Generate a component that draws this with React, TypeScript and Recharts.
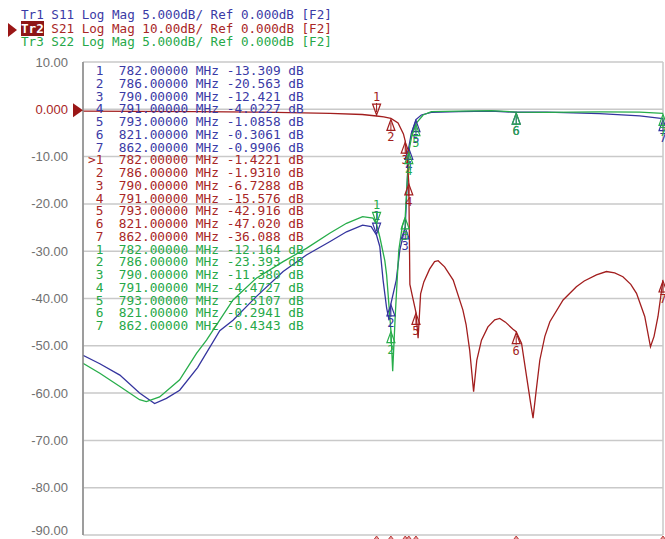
import { CartesianGrid, Line, LineChart, ReferenceDot, XAxis, YAxis } from "recharts";

// Network analyzer screen: 3 traces, Tr2 (S21) is active so the axis is in its scale.
const BLUE = "#34349e";
const RED = "#a21e1e";
const GREEN = "#27ad4a";
const BLUE_TXT = "#3a3aa6";
const RED_TXT = "#a82626";
const GREEN_TXT = "#26a848";

const markerFreqs = [782, 786, 790, 791, 793, 821, 862];
const s11Markers = [-13.309, -20.563, -12.421, -4.0227, -1.0858, -0.3061, -0.9906];
const s21Markers = [-1.4221, -1.931, -6.7288, -15.576, -42.916, -47.02, -36.088];
const s22Markers = [-12.164, -23.393, -11.38, -4.4727, -1.5107, -0.2941, -0.4343];

const yTicks = [10, 0, -10, -20, -30, -40, -50, -60, -70, -80, -90];
const xGridFreqs = [700, 716.2, 732.4, 748.6, 764.8, 781, 797.2, 813.4, 829.6, 845.8, 862];

// dB per division of each trace (header)
const S11_DIV = 5;
const S21_DIV = 10;
const S22_DIV = 5;

// S11, real dB
const s11Freq = [700, 704.7, 710.3, 715.8, 720, 723.3, 727, 732, 738.2, 741.9, 748.4, 755.9, 762.4, 768.9, 773.6, 778.1, 780.5, 782, 782.9, 783.8, 784.8, 785.5, 786, 787.5, 788.5, 790, 790.8, 791, 791.7, 793, 794.5, 797.3, 805, 814, 821, 829.5, 844.3, 855.5, 862];
const s11Db = [-26.0, -26.9, -28.1, -30.0, -31.1, -30.55, -29.7, -27.3, -23.4, -22.3, -19.8, -17.15, -15.4, -14.0, -12.95, -12.25, -12.4, -13.31, -14.5, -18, -21, -22.3, -20.56, -18.05, -14.85, -12.42, -5.7, -4.02, -2.55, -1.09, -0.6, -0.32, -0.25, -0.2, -0.31, -0.3, -0.45, -0.7, -0.99];

// S21, real dB
const s21Freq = [700, 715, 732, 750, 769, 778, 782, 784, 786, 788, 789.5, 790, 790.5, 791, 791.3, 792, 793, 793.6, 794.3, 795.2, 796.8, 798.2, 799.2, 801, 803.4, 806.1, 807, 808, 809.1, 810, 811.3, 813.1, 815, 816.4, 818, 820.1, 821, 822.5, 823.9, 825, 825.7, 826.5, 827.6, 829, 830.4, 834.1, 837.8, 840, 843.4, 846.2, 848.5, 850.8, 853, 854.6, 856.9, 858.5, 859.5, 860.6, 862];
const s21Db = [-0.4, -0.45, -0.5, -0.6, -0.85, -1.1, -1.42, -1.6, -1.93, -2.9, -5.2, -6.73, -10, -15.58, -37, -39.5, -42.92, -48.4, -39, -36.5, -33.8, -32.2, -32.0, -33.3, -36.1, -42.4, -45.5, -50.9, -59.7, -53, -48.8, -46, -44.5, -44.2, -45, -46.5, -47.02, -49.5, -56.5, -62, -65.3, -60, -53, -48, -44.9, -40.3, -37.5, -36.3, -35, -34.3, -34.6, -35.4, -37, -38.9, -43.8, -50.2, -48, -43.8, -36.09];

// S22, real dB
const s22Freq = [700, 704.7, 710.3, 715.8, 717.7, 721.4, 727, 731.7, 734.5, 741.9, 748.4, 755.9, 762.4, 768.9, 773.6, 778.1, 781, 782, 782.9, 784.3, 784.8, 785.7, 786, 786.5, 787.2, 788.2, 789.2, 790, 791, 792, 793, 795, 797.3, 805, 814, 821, 829.5, 844.3, 855.5, 862];
const s22Db = [-26.85, -27.9, -29.3, -30.7, -30.9, -30.4, -28.6, -25.8, -24.4, -20.15, -17.85, -16.1, -14.7, -13.1, -12.05, -11.35, -11.5, -12.16, -13.5, -16, -17.5, -21.9, -23.39, -27.7, -21.9, -14.9, -12.3, -11.38, -4.47, -2.5, -1.51, -0.6, -0.25, -0.2, -0.15, -0.29, -0.32, -0.28, -0.3, -0.43];

// the grid is drawn in Tr2's scale, so 5 dB/div traces are stretched
const toRows = (f: number[], v: number[], div: number) =>
  f.map((x, i) => ({ f: x, v: (v[i] * S21_DIV) / div }));

const s11Data = toRows(s11Freq, s11Db, S11_DIV);
const s21Data = toRows(s21Freq, s21Db, S21_DIV);
const s22Data = toRows(s22Freq, s22Db, S22_DIV);

const MONO = "'DejaVu Sans Mono', 'Liberation Mono', monospace";

const fmtTick = (v: number) => (v === 0 ? "0.000" : v.toFixed(2));
const fmtVal = (v: number) => (Math.abs(v) >= 10 ? v.toFixed(3) : v.toFixed(4));

function YTick(props: any) {
  const { y, payload } = props;
  const v = payload.value as number;
  const isRef = v === 0;
  return (
    <g>
      <text
        x={68}
        y={y}
        dy={4.5}
        textAnchor="end"
        fontSize={13}
        fontFamily="'Liberation Sans', Arial, sans-serif"
        fill={isRef ? RED_TXT : "#707070"}
      >
        {fmtTick(v)}
      </text>
      {isRef ? <polygon points={`73,${y - 6} 83,${y + 1} 73,${y + 8}`} fill="#9a1616" /> : null}
    </g>
  );
}

function markerShape(color: string, label: string, above: boolean) {
  return (p: any) => {
    const { cx, cy } = p;
    if (cx == null || cy == null) return <g />;
    if (above) {
      return (
        <g>
          <polygon
            points={`${cx - 4},${cy - 12} ${cx + 4},${cy - 12} ${cx},${cy - 1}`}
            fill="none"
            stroke={color}
            strokeWidth={1.2}
          />
          <line x1={cx} y1={cy - 13} x2={cx} y2={cy - 4} stroke={color} strokeWidth={1} />
          <text x={cx} y={cy - 15} textAnchor="middle" fontSize={12} fontFamily={MONO} fill={color}>
            {label}
          </text>
        </g>
      );
    }
    return (
      <g>
        <polygon
          points={`${cx},${cy + 1} ${cx - 4},${cy + 12} ${cx + 4},${cy + 12}`}
          fill="none"
          stroke={color}
          strokeWidth={1.2}
        />
        <line x1={cx} y1={cy + 4} x2={cx} y2={cy + 13} stroke={color} strokeWidth={1} />
        <text x={cx} y={cy + 23} textAnchor="middle" fontSize={12} fontFamily={MONO} fill={color}>
          {label}
        </text>
      </g>
    );
  };
}

function bottomTick(p: any) {
  const { cx, cy } = p;
  if (cx == null || cy == null) return <g />;
  return (
    <polygon
      points={`${cx},${cy + 1} ${cx - 3},${cy + 5} ${cx + 3},${cy + 5}`}
      fill="#e49a9a"
      stroke="#b82c2c"
      strokeWidth={0.9}
    />
  );
}

function markerRows(vals: number[], active: boolean) {
  return markerFreqs.map((f, i) => {
    const prefix = active && i === 0 ? ">" : " ";
    return `${prefix}${i + 1}  ${f.toFixed(5)} MHz ${fmtVal(vals[i]).padStart(7)} dB`;
  });
}

const traces = [
  { color: BLUE, txt: BLUE_TXT, markers: s11Markers, div: S11_DIV, active: false },
  { color: RED, txt: RED_TXT, markers: s21Markers, div: S21_DIV, active: true },
  { color: GREEN, txt: GREEN_TXT, markers: s22Markers, div: S22_DIV, active: false },
];

export default function App() {
  return (
    <div
      style={{
        position: "absolute",
        left: 0,
        top: 0,
        width: 665,
        height: 539,
        overflow: "hidden",
        background: "#fff",
      }}
    >
      {/* header lines */}
      <div
        style={{
          position: "absolute",
          left: 21,
          top: 8,
          fontFamily: MONO,
          fontSize: 12.6,
          lineHeight: "13.5px",
          whiteSpace: "pre",
        }}
      >
        <div style={{ color: BLUE_TXT }}>Tr1 S11 Log Mag 5.000dB/ Ref 0.000dB [F2]</div>
        <div style={{ color: RED_TXT }}>
          <span style={{ background: "#8e1717", color: "#fff", fontWeight: "bold" }}>Tr2</span> S21 Log Mag
          10.00dB/ Ref 0.000dB [F2]
        </div>
        <div style={{ color: GREEN_TXT }}>Tr3 S22 Log Mag 5.000dB/ Ref 0.000dB [F2]</div>
      </div>
      <svg style={{ position: "absolute", left: 7, top: 22 }} width={12} height={16}>
        <polygon points="1,1 10,8 1,15" fill="#9a1616" />
      </svg>

      <LineChart width={665} height={539} margin={{ top: 62, right: 2, bottom: 0, left: 0 }}>
        <CartesianGrid stroke="#c9c9c9" strokeWidth={1.5} />
        <XAxis
          type="number"
          dataKey="f"
          domain={[700, 862]}
          ticks={xGridFreqs}
          tick={false}
          tickLine={false}
          axisLine={false}
          height={4}
          allowDataOverflow
        />
        <YAxis
          type="number"
          domain={[-90, 10]}
          ticks={yTicks}
          width={83}
          tick={<YTick />}
          tickLine={false}
          axisLine={{ stroke: "#8a8a8a", strokeWidth: 1.5 }}
          allowDataOverflow
        />
        <Line data={s11Data} dataKey="v" type="linear" stroke={BLUE} strokeWidth={1.3} dot={false} isAnimationActive={false} />
        <Line data={s22Data} dataKey="v" type="linear" stroke={GREEN} strokeWidth={1.3} dot={false} isAnimationActive={false} />
        <Line data={s21Data} dataKey="v" type="linear" stroke={RED} strokeWidth={1.3} dot={false} isAnimationActive={false} />
        {traces.map((t, ti) =>
          markerFreqs.map((f, i) => (
            <ReferenceDot
              key={`m${ti}-${i}`}
              x={f}
              y={(t.markers[i] * S21_DIV) / t.div}
              ifOverflow="visible"
              shape={markerShape(t.color, String(i + 1), i === 0)}
            />
          ))
        )}
        {markerFreqs.map((f, i) => (
          <ReferenceDot key={`b${i}`} x={f} y={-90} ifOverflow="visible" shape={bottomTick} />
        ))}
      </LineChart>

      {/* marker table */}
      <div
        style={{
          position: "absolute",
          left: 88,
          top: 65,
          fontFamily: MONO,
          fontSize: 12.8,
          lineHeight: "12.75px",
          whiteSpace: "pre",
        }}
      >
        {traces.map((t, ti) =>
          markerRows(t.markers, t.active).map((row, i) => (
            <div key={`r${ti}-${i}`} style={{ color: t.txt }}>
              {row}
            </div>
          ))
        )}
      </div>
    </div>
  );
}
